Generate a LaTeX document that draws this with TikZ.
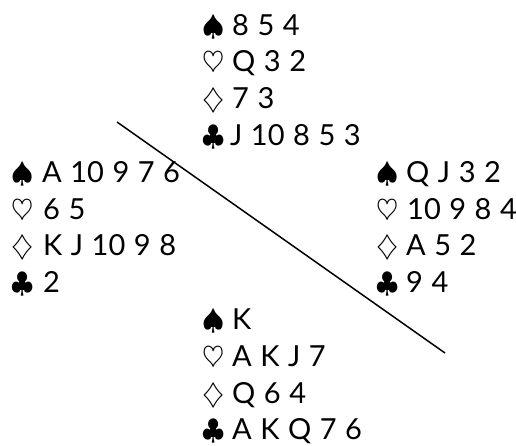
\documentclass[tikz,border=0pt]{standalone}
\usepackage{graphicx}
\usepackage{fontspec}
\setmainfont{Lato}[WordSpace=1.15]
\newcommand{\suitsym}[1]{\scalebox{2.85}{$#1$}}
\tikzset{
  suit/.style={anchor=base west, inner sep=0pt},
  rank/.style={anchor=base west, inner sep=0pt, font=\fontsize{29}{32}\selectfont},
  divider/.style={line width=1.5pt, black},
}
\begin{document}
\begin{tikzpicture}[x=1pt,y=-1pt]
\useasboundingbox (0,0) rectangle (516,445);
% North
\node[suit] (ns) at (202,35) {\suitsym{\spadesuit}};
\node[rank] (nsr) at (232,35) {8 5 4};
\node[suit] (nh) at (202,71.8) {\suitsym{\heartsuit}};
\node[rank] (nhr) at (232,71.8) {Q 3 2};
\node[suit] (nd) at (202,108.6) {\suitsym{\diamondsuit}};
\node[rank] (ndr) at (232,108.6) {7 3};
\node[suit] (nc) at (202,145.4) {\suitsym{\clubsuit}};
\node[rank] (ncr) at (230,145.4) {J 10 8 5 3};
% West
\node[suit] (ws) at (11,182.2) {\suitsym{\spadesuit}};
\node[rank] (wsr) at (42,182.2) {A 10 9 7 6};
\node[suit] (wh) at (11,219) {\suitsym{\heartsuit}};
\node[rank] (whr) at (43,219) {6 5};
\node[suit] (wd) at (11,255.8) {\suitsym{\diamondsuit}};
\node[rank] (wdr) at (43,255.8) {K J 10 9 8};
\node[suit] (wc) at (11,292.6) {\suitsym{\clubsuit}};
\node[rank] (wcr) at (43,292.6) {2};
% East
\node[suit] (es) at (376,182.2) {\suitsym{\spadesuit}};
\node[rank] (esr) at (406,182.2) {Q J 3 2};
\node[suit] (eh) at (376,219) {\suitsym{\heartsuit}};
\node[rank] (ehr) at (407,219) {10 9 8 4};
\node[suit] (ed) at (376,255.8) {\suitsym{\diamondsuit}};
\node[rank] (edr) at (406,255.8) {A 5 2};
\node[suit] (ec) at (376,292.6) {\suitsym{\clubsuit}};
\node[rank] (ecr) at (406,292.6) {9 4};
% South
\node[suit] (ss) at (202,329.4) {\suitsym{\spadesuit}};
\node[rank] (ssr) at (232,329.4) {K};
\node[suit] (sh) at (202,366.2) {\suitsym{\heartsuit}};
\node[rank] (shr) at (232,366.2) {A K J 7};
\node[suit] (sd) at (202,403) {\suitsym{\diamondsuit}};
\node[rank] (sdr) at (232,403) {Q 6 4};
\node[suit] (sc) at (202,439.8) {\suitsym{\clubsuit}};
\node[rank] (scr) at (232,439.8) {A K Q 7 6};
% divider
\coordinate (d1) at (117,122);
\coordinate (d2) at (445,353);
\draw[divider] (d1) -- (d2);
\end{tikzpicture}
\end{document}
